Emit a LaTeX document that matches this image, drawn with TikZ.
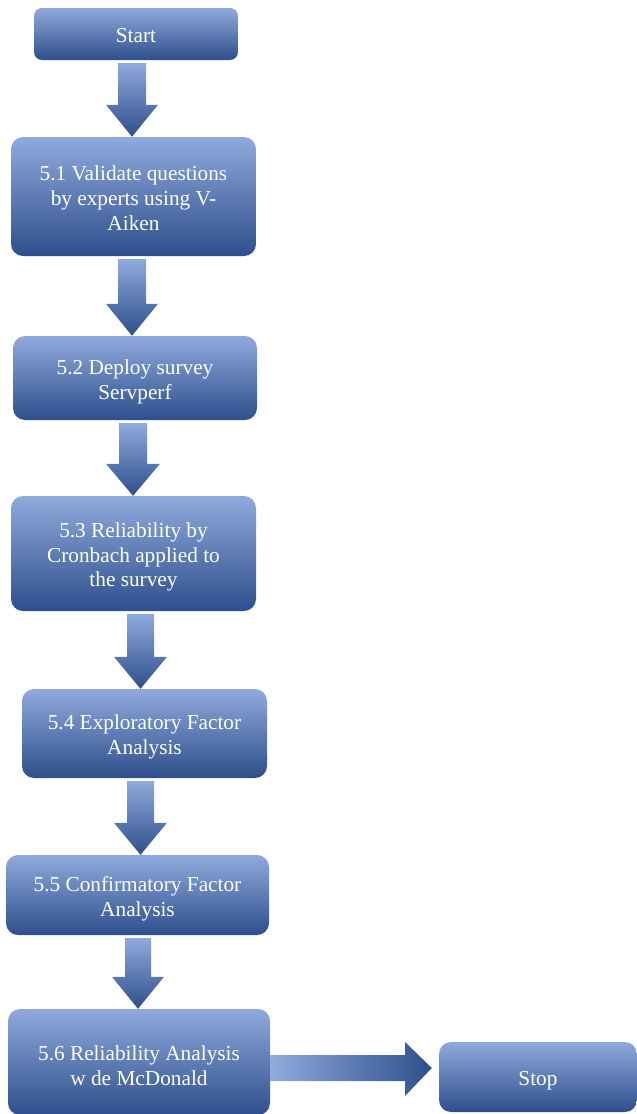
\documentclass[tikz,border=0pt]{standalone}
\usepackage{fontspec}
\setmainfont{Liberation Serif}
\usetikzlibrary{calc}
\definecolor{gtop}{HTML}{8FAADC}
\definecolor{gmid}{HTML}{4673C5}
\definecolor{gbot}{HTML}{2E4F8C}
\tikzset{
  box/.style={rounded corners=12pt, top color=gtop, middle color=gmid, bottom color=gbot,
    draw=none, inner sep=0pt},
  txt/.style={text=white, align=center, inner sep=0pt,
    font=\fontsize{21.3}{24.8}\selectfont},
  vshade/.style={top color=gtop, middle color=gmid, bottom color=gbot, draw=none},
  hshade/.style={left color=gtop, right color=gbot, shading angle=90, draw=none},
}
% down block arrow: #1 x centre, #2 source node, #3 target node, #4 shaft half width, #5 head half width
\newcommand\blockdown[5]{%
  \path let \p1=(#2.south), \p2=(#3.north) in
    [vshade] ({#1pt-#4pt},{\y1-3pt}) -- ({#1pt+#4pt},{\y1-3pt}) -- ({#1pt+#4pt},{\y2+32pt})
    -- ({#1pt+#5pt},{\y2+32pt}) -- ({#1pt},{\y2}) -- ({#1pt-#5pt},{\y2+32pt})
    -- ({#1pt-#4pt},{\y2+32pt}) -- cycle;}
\begin{document}
\begin{tikzpicture}[x=1pt,y=1pt]
\useasboundingbox (0,0) rectangle (637,-1114);
\node[box, rounded corners=8pt, minimum width=204, minimum height=52] (start) at (136,-34) {};
\node[box, minimum width=245, minimum height=119] (s1) at (133.5,-196.5) {};
\node[box, minimum width=244, minimum height=84] (s2) at (135,-378) {};
\node[box, minimum width=245, minimum height=115] (s3) at (133.5,-553.5) {};
\node[box, minimum width=245, minimum height=89] (s4) at (144.5,-733.5) {};
\node[box, minimum width=263, minimum height=80] (s5) at (137.5,-895) {};
\node[box, minimum width=262, minimum height=106] (s6) at (139,-1062) {};
\node[box, minimum width=198, minimum height=70] (stop) at (538,-1077) {};
\node[txt] (startt) at ($(start.center)+(0,-1.5)$) {Start};
\node[txt] (s1t) at ($(s1.center)+(0,-2)$) {5.1 Validate questions\\by experts using V-\\Aiken};
\node[txt] (s2t) at ($(s2.center)+(0,-3.5)$) {5.2 Deploy survey\\Servperf};
\node[txt] (s3t) at ($(s3.center)+(0,-3.5)$) {5.3 Reliability by\\Cronbach applied to\\the survey};
\node[txt] (s4t) at ($(s4.center)+(0,-3.5)$) {5.4 Exploratory Factor\\Analysis};
\node[txt] (s5t) at ($(s5.center)+(0,-3.5)$) {5.5 Confirmatory Factor\\Analysis};
\node[txt] (s6t) at ($(s6.center)+(0,-3.5)$) {5.6 Reliability Analysis\\w de McDonald};
\node[txt] (stopt) at ($(stop.center)+(0,-3.5)$) {Stop};
\blockdown{132}{start}{s1}{14}{26}
\blockdown{132}{s1}{s2}{14}{26}
\blockdown{133}{s2}{s3}{14}{27}
\blockdown{140.5}{s3}{s4}{13.5}{26.5}
\blockdown{140.5}{s4}{s5}{13.5}{26.5}
\blockdown{138}{s5}{s6}{13}{26}
\path let \p1=(s6.east), \p2=(stop.west) in
  [hshade] (\x1,-1055) -- (405,-1055) -- (405,-1042) -- ({\x2-7pt},-1068)
  -- (405,-1096) -- (405,-1081) -- (\x1,-1081) -- cycle;
\end{tikzpicture}
\end{document}
